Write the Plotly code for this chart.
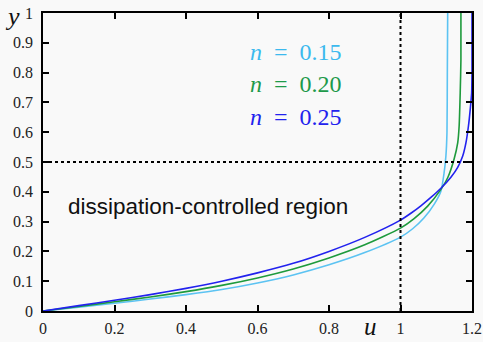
import plotly.graph_objects as go

# Values (u, y)
u_n015 = [0.0, 0.1, 0.2, 0.3, 0.4, 0.5, 0.6, 0.7, 0.8, 0.9, 1.0, 1.034, 1.066, 1.094, 1.113, 1.122, 1.127, 1.130, 1.131, 1.132]
y_n015 = [0.0, 0.013, 0.026, 0.040, 0.055, 0.072, 0.094, 0.121, 0.155, 0.196, 0.248, 0.276, 0.313, 0.358, 0.402, 0.464, 0.520, 0.600, 0.800, 1.000]

u_n020 = [0.0, 0.1, 0.2, 0.3, 0.4, 0.5, 0.6, 0.7, 0.8, 0.9, 1.0, 1.038, 1.076, 1.113, 1.132, 1.150, 1.160, 1.164, 1.167, 1.169, 1.169]
y_n020 = [0.0, 0.015, 0.031, 0.047, 0.065, 0.086, 0.111, 0.141, 0.178, 0.222, 0.278, 0.310, 0.352, 0.408, 0.447, 0.510, 0.564, 0.620, 0.731, 0.843, 1.000]

u_n025 = [0.0, 0.1, 0.2, 0.3, 0.4, 0.5, 0.6, 0.7, 0.8, 0.9, 1.0, 1.029, 1.057, 1.085, 1.113, 1.141, 1.160, 1.174, 1.183, 1.190, 1.195, 1.199, 1.200, 1.200]
y_n025 = [0.0, 0.018, 0.036, 0.055, 0.076, 0.100, 0.128, 0.160, 0.200, 0.247, 0.305, 0.328, 0.353, 0.381, 0.412, 0.449, 0.482, 0.520, 0.564, 0.620, 0.676, 0.731, 0.800, 1.000]

series_labels = ["<i>n</i>&nbsp;&nbsp;=&nbsp;&nbsp;0.15", "<i>n</i>&nbsp;&nbsp;=&nbsp;&nbsp;0.20", "<i>n</i>&nbsp;&nbsp;=&nbsp;&nbsp;0.25"]
series_colors = ["#5cc3f2", "#1e9a3c", "#2222ee"]
label_colors = ["#3cb9ee", "#1e9a4a", "#2222ee"]

x_ticks = [0, 0.2, 0.4, 0.6, 0.8, 1, 1.2]
y_ticks = [0, 0.1, 0.2, 0.3, 0.4, 0.5, 0.6, 0.7, 0.8, 0.9, 1]

bg = "#f9f9f9"
serif = "Liberation Serif"

W, H = 483, 342
ML, MR, MT, MB = 43, 11, 13, 31
pw, ph = W - ML - MR, H - MT - MB

fig = go.Figure()
for uu, yy, col in zip([u_n015, u_n020, u_n025], [y_n015, y_n020, y_n025], series_colors):
    fig.add_trace(go.Scatter(x=uu, y=yy, mode="lines",
                             line=dict(color=col, width=1.6, shape="spline", smoothing=0.6),
                             showlegend=False, hoverinfo="skip"))

# dotted guide lines
fig.add_shape(type="line", x0=0, x1=1.2, y0=0.5, y1=0.5, xref="x", yref="y",
              line=dict(color="black", width=2, dash="dot"))
fig.add_shape(type="line", x0=1, x1=1, y0=0, y1=1, xref="x", yref="y",
              line=dict(color="black", width=2, dash="dot"))

tick_font = dict(family=serif, size=16, color="#222")
axis_style = dict(showgrid=False, zeroline=False, showline=True, linecolor="black",
                  linewidth=1.5, mirror="ticks", ticks="inside", ticklen=6,
                  tickcolor="black", tickwidth=1.5, automargin=False,
                  ticklabeloverflow="allow", tickfont=tick_font)

fig.update_layout(
    width=W, height=H,
    margin=dict(l=ML, r=MR, t=MT, b=MB),
    paper_bgcolor=bg, plot_bgcolor=bg,
    font=dict(family=serif, size=16),
)
fig.update_xaxes(range=[0, 1.2], tickvals=x_ticks, ticklabelstandoff=2, **axis_style)
fig.update_yaxes(range=[0, 1], tickvals=y_ticks, ticklabelstandoff=5, **axis_style)


def px_ann(x, y, text, size, family, color="black", xanchor="left", yanchor="middle"):
    fig.add_annotation(x=(x - ML) / pw, y=(H - MB - y) / ph, xref="paper", yref="paper",
                       text=text, showarrow=False, xanchor=xanchor, yanchor=yanchor,
                       font=dict(family=family, size=size, color=color))


for i, (lab, col) in enumerate(zip(series_labels, label_colors)):
    px_ann(248, 51.7 + i * 32.5, lab, 24, serif, col)

px_ann(66, 206, "dissipation-controlled region", 22.5, "Liberation Sans", "#111")
px_ann(13, 16, "<i>y</i>", 26, serif, "#111", "center")
px_ann(370, 342, "<i>u</i>", 25, serif, "#111", "center", "bottom")

fig.write_html("out.html")
